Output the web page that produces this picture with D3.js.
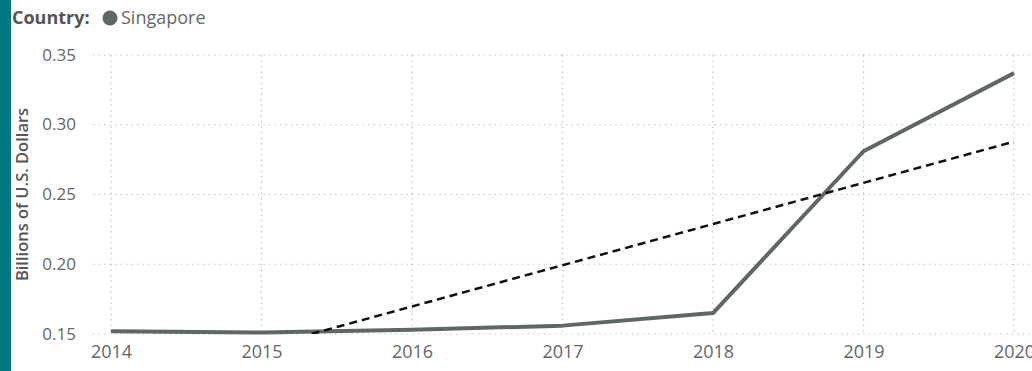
<!DOCTYPE html>
<html>
<head>
<meta charset="utf-8">
<script src="https://cdn.jsdelivr.net/npm/d3@7"></script>
<style>
  body { margin: 0; background: #fff; }
  text { font-family: 'Segoe UI', 'Open Sans', sans-serif; }
</style>
</head>
<body>
<script>
const width = 1032
const height = 371

// datos
const years = [2014, 2015, 2016, 2017, 2018, 2019, 2020]
const values = [0.152, 0.151, 0.153, 0.156, 0.165, 0.281, 0.337]
const yTicks = [0.15, 0.20, 0.25, 0.30, 0.35]
const country = 'Singapore'

const lineColor = '#5f6766'

const x = d3.scaleLinear().domain([2014, 2020]).range([111, 1014])
const y = d3.scaleLinear().domain([0.15, 0.35]).range([334, 55])

const svg = d3.select('body').append('svg').attr('width', width).attr('height', height)

// barra lateral
svg.append('rect').attr('x', 0).attr('y', 0).attr('width', 11).attr('height', height).attr('fill', '#00787f')

// leyenda
svg.append('text').attr('x', 12).attr('y', 24)
  .attr('font-size', 18).attr('font-weight', 'bold').attr('fill', '#555')
  .text('Country:')
svg.append('circle').attr('cx', 110).attr('cy', 18).attr('r', 7.5).attr('fill', lineColor)
svg.append('text').attr('x', 121).attr('y', 24)
  .attr('font-size', 18).attr('fill', '#666')
  .text(country)

// grilla
const grid = svg.append('g')
grid.selectAll('line.h').data(yTicks).join('line')
  .attr('x1', 93).attr('x2', width)
  .attr('y1', d => y(d)).attr('y2', d => y(d))
  .attr('stroke', '#c4c4c4').attr('stroke-width', 1.2).attr('stroke-dasharray', '1.5,4')
grid.selectAll('line.v').data(years).join('line')
  .attr('x1', d => x(d)).attr('x2', d => x(d))
  .attr('y1', y(0.35)).attr('y2', y(0.15))
  .attr('stroke', '#c4c4c4').attr('stroke-width', 1.2).attr('stroke-dasharray', '1.5,4')

// ejes
svg.append('g').attr('transform', 'translate(79,0)')
  .call(d3.axisLeft(y).tickValues(yTicks).tickFormat(d3.format('.2f')).tickSize(0))
  .call(g => g.select('.domain').remove())
  .selectAll('text').attr('font-size', 17).attr('fill', '#666')
  .attr('font-family', "'Segoe UI', 'Open Sans', sans-serif").attr('dy', '0.3em')

svg.append('g').attr('transform', 'translate(0,342)')
  .call(d3.axisBottom(x).tickValues(years).tickFormat(d3.format('d')).tickSize(0))
  .call(g => g.select('.domain').remove())
  .selectAll('text').attr('font-size', 18).attr('fill', '#666')
  .attr('font-family', "'Segoe UI', 'Open Sans', sans-serif")

svg.append('text')
  .attr('transform', `translate(28,${(y(0.35) + y(0.15)) / 2 + 0}) rotate(-90)`)
  .attr('text-anchor', 'middle').attr('font-size', 16.5).attr('font-weight', 600).attr('fill', '#555')
  .text('Billions of U.S. Dollars')

// linea de tendencia (regresion lineal)
const mx = d3.mean(years), my = d3.mean(values)
const slope = d3.sum(years, (d, i) => (d - mx) * (values[i] - my)) / d3.sum(years, d => (d - mx) ** 2)
const trend = years.map(d => my + slope * (d - mx))

svg.append('clipPath').attr('id', 'clip')
  .append('rect').attr('x', 93).attr('y', 0).attr('width', width).attr('height', y(0.15))

const line = d3.line().x((d, i) => x(years[i])).y(d => y(d))

svg.append('path').datum(values)
  .attr('d', line).attr('fill', 'none')
  .attr('stroke', lineColor).attr('stroke-width', 4).attr('stroke-linejoin', 'round')

svg.append('path').datum(trend)
  .attr('clip-path', 'url(#clip)')
  .attr('d', line).attr('fill', 'none')
  .attr('stroke', '#111').attr('stroke-width', 2.5).attr('stroke-dasharray', '8,5')
</script>
</body>
</html>
